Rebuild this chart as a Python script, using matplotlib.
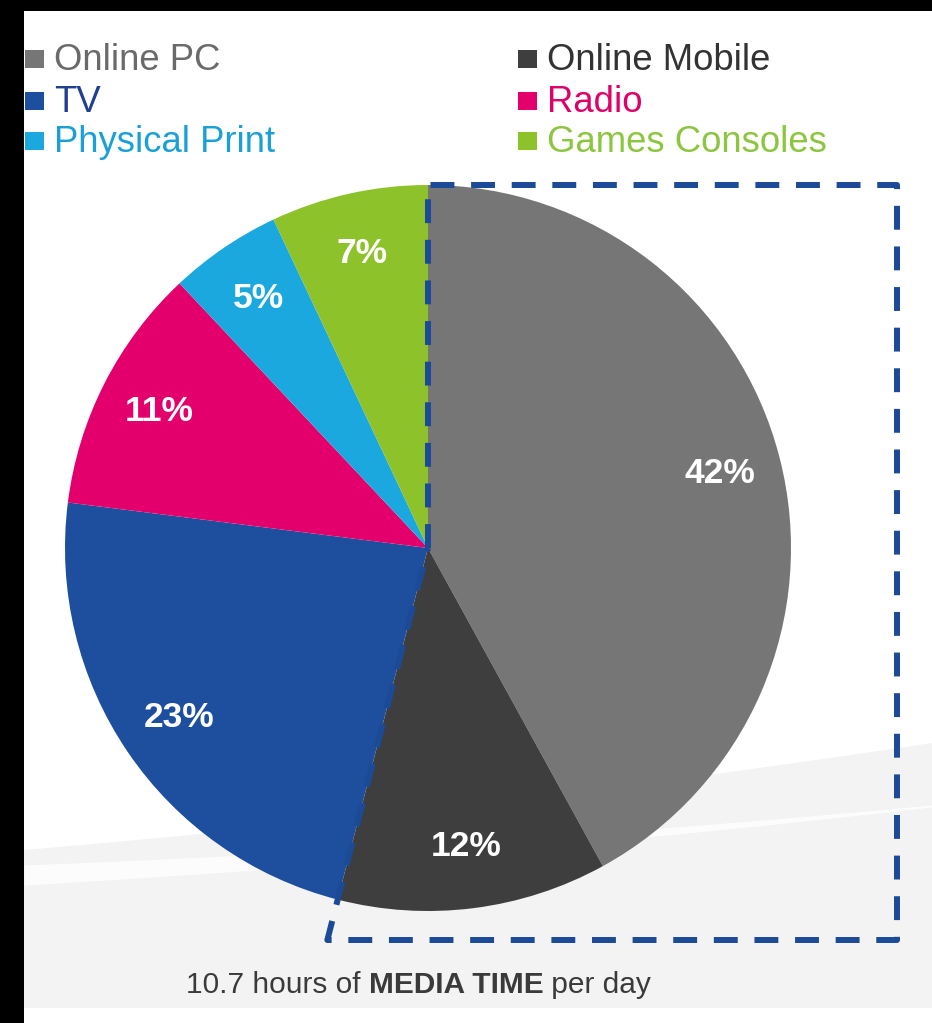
import numpy as np
import matplotlib
matplotlib.use('Agg')
import matplotlib.pyplot as plt
from matplotlib.patches import Rectangle, Polygon

plt.rcParams['font.family'] = ['Liberation Sans', 'DejaVu Sans']

labels = ['Online PC', 'Online Mobile', 'TV', 'Radio', 'Physical Print', 'Games Consoles']
shares = [42, 12, 23, 11, 5, 7]
colors = ['#767676', '#3e3e3e', '#1e4e9e', '#e3006c', '#1ba8df', '#8dc22b']
text_colors = ['#6a6a6a', '#333333', '#1f3f8f', '#df0068', '#1aa0d8', '#8cc63f']
caption = ['10.7 hours of ', 'MEDIA TIME', ' per day']

W, H = 932, 1023
fig = plt.figure(figsize=(W/100, H/100), dpi=100)
ax = fig.add_axes([0, 0, 1, 1])

def Y(y):   # image row -> y-up coords
    return H - y

cx, cy, R = 428, Y(548), 363
wedges, _, autotexts = ax.pie(shares, colors=colors, startangle=90, counterclock=False,
                              center=(cx, cy), radius=R, autopct='%d%%', pctdistance=0.83,
                              wedgeprops=dict(linewidth=0),
                              textprops=dict(color='white', fontsize=25.5, fontweight='bold'))
for w in wedges:
    w.set_zorder(2)
for a in autotexts:
    a.set_zorder(3)

# pie() sets its own limits, so set ours afterwards
ax.set_xlim(0, W)
ax.set_ylim(0, H)
ax.set_aspect('equal')
ax.axis('off')

# background: white, grey swoosh at the bottom
xs = np.linspace(24, W, 60)
t = (xs - 24) / (W - 24)
top = Y(850 - 107*t + 30*t*(1-t))
band_hi = Y(865 - 60*t + 25*t*(1-t))
band_lo = Y(885 - 78*t + 25*t*(1-t))
ax.add_patch(Polygon(np.column_stack([np.r_[xs, xs[::-1]], np.r_[top, np.full(len(xs), Y(1008))]]),
                     closed=True, facecolor='#f3f3f3', edgecolor='none', zorder=0))
ax.fill_between(xs, band_lo, band_hi, color='white', alpha=0.8, lw=0, zorder=0)
ax.add_patch(Rectangle((0, 0), W, H - 1008, facecolor='white', edgecolor='none', zorder=0))
# black frame bits
ax.add_patch(Rectangle((0, Y(11)), W, 11, facecolor='black', edgecolor='none', zorder=5))
ax.add_patch(Rectangle((0, 0), 24, H, facecolor='black', edgecolor='none', zorder=5))

# dashed box, left side runs along the Online Mobile / TV edge
ang = np.deg2rad(90 - 360*(shares[0] + shares[1])/100)
bot = Y(940)
x_corner = cx + (bot - cy) / np.sin(ang) * np.cos(ang)
bx = [cx, cx, 897, 897, x_corner, cx]
by = [cy, Y(185), Y(185), bot, bot, cy]
ax.plot(bx, by, color='#1b4a97', lw=4.3, linestyle=(0, (4, 2.8)), zorder=4,
        solid_capstyle='butt', dash_capstyle='butt')

# legend
leg_x = [25, 518]
leg_y = [70, 112, 152]
for i, lab in enumerate(labels):
    col, row = i % 2, i // 2
    x0 = leg_x[col]
    yb = Y(leg_y[row])
    ax.add_patch(Rectangle((x0, yb + 2), 19, 18, facecolor=colors[i], edgecolor='none', zorder=6))
    ax.text(x0 + 29, yb, lab, color=text_colors[i], fontsize=26.3, va='baseline', ha='left', zorder=6)

# caption with bold middle part
fig.canvas.draw()
r = fig.canvas.get_renderer()
x = 186
for i, part in enumerate(caption):
    tx = ax.text(x, Y(993), part, fontsize=21.5, color='#3a3a3a', va='baseline', ha='left',
                 fontweight='bold' if i == 1 else 'normal', zorder=6)
    bb = tx.get_window_extent(renderer=r)
    x = ax.transData.inverted().transform((bb.x1, bb.y0))[0]

fig.savefig('out.png', dpi=100)
